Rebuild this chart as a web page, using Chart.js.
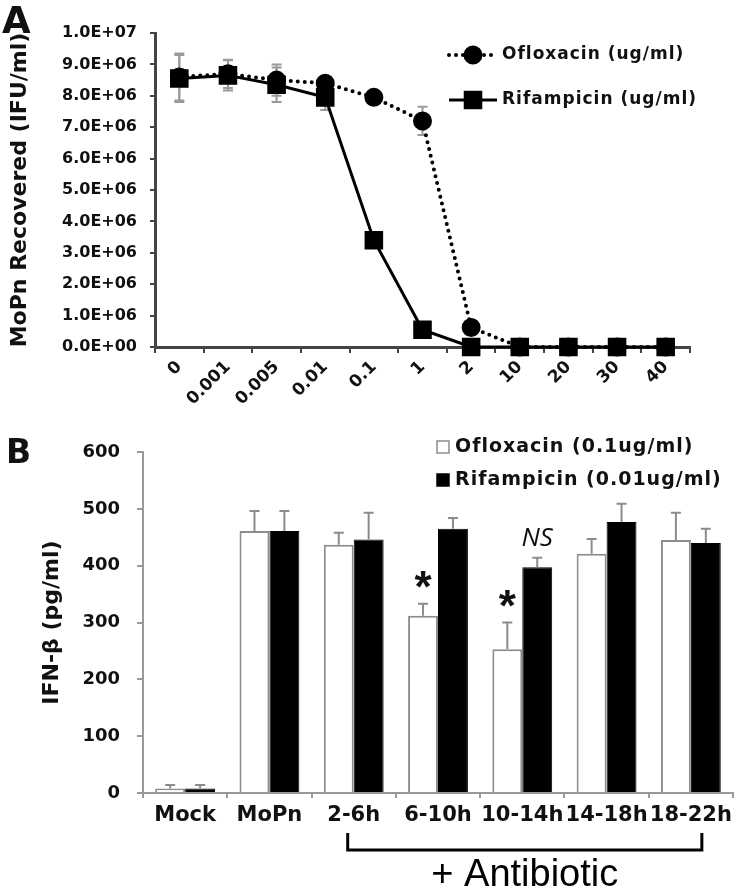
<!DOCTYPE html>
<html>
<head>
<meta charset="utf-8">
<script src="https://cdn.jsdelivr.net/npm/chart.js@4.4.1/dist/chart.umd.min.js"></script>
<style>
  html, body { margin: 0; padding: 0; background: #fff; }
  #wrap { position: relative; width: 740px; height: 892px; }
  .panel { position: absolute; left: 0; width: 740px; }
  #panelA { top: 0; height: 435px; }
  #panelB { top: 435px; height: 457px; }
</style>
</head>
<body>
<div id="wrap">
  <div class="panel" id="panelA"><canvas id="chartA"></canvas></div>
  <div class="panel" id="panelB"><canvas id="chartB"></canvas></div>
</div>
<script>
/* ---------- Panel A data (MoPn recovered, IFU/ml) ---------- */
const concLabels = ['0', '0.001', '0.005', '0.01', '0.1', '1', '2', '10', '20', '30', '40'];
const oflox = [8.6e6, 8.7e6, 8.5e6, 8.4e6, 7.95e6, 7.2e6, 0.62e6, 0, 0, 0, 0];
const ofloxErr = [0.75e6, 0.45e6, 0.5e6, 0.1e6, 0.1e6, 0.45e6, 0.05e6, 0, 0, 0, 0];
const rifam = [8.55e6, 8.65e6, 8.35e6, 7.95e6, 3.4e6, 0.55e6, 0, 0, 0, 0, 0];
const rifamErr = [0.75e6, 0.48e6, 0.55e6, 0.4e6, 0.1e6, 0.1e6, 0, 0, 0, 0, 0];
const yTicksA = ['0.0E+00', '1.0E+06', '2.0E+06', '3.0E+06', '4.0E+06', '5.0E+06',
                 '6.0E+06', '7.0E+06', '8.0E+06', '9.0E+06', '1.0E+07'];

/* ---------- Panel B data (IFN-beta, pg/ml) ---------- */
const groups = ['Mock', 'MoPn', '2-6h', '6-10h', '10-14h', '14-18h', '18-22h'];
const ifnOflox = [8, 461, 437, 312, 253, 421, 445];
const ifnOfloxErr = [6, 35, 21, 21, 47, 26, 48];
const ifnRifam = [8, 461, 446, 465, 397, 477, 440];
const ifnRifamErr = [6, 35, 47, 19, 17, 32, 25];
const oflSig = ['', '', '', '*', '*', '', ''];
const rifSig = ['', '', '', '', 'NS', '', ''];
const yTicksB = ['0', '100', '200', '300', '400', '500', '600'];

const FONT = "'DejaVu Sans', sans-serif";
const INK = '#111';

// y scale padding from tick labels would push the plot down, drop it
function fixY(width) {
  return s => { s.width = width; s.paddingTop = 0; s.paddingBottom = 0; };
}

/* error bars drawn through the y scale */
function drawErrors(chart, opts) {
  const ctx = chart.ctx, y = chart.scales.y;
  ctx.save();
  ctx.strokeStyle = opts.color;
  ctx.lineWidth = opts.width;
  chart.data.datasets.forEach((ds, i) => {
    if (!ds.errors) return;
    chart.getDatasetMeta(i).data.forEach((el, j) => {
      const err = ds.errors[j];
      if (!err) return;
      const top = y.getPixelForValue(ds.data[j] + err);
      const bot = opts.upOnly ? el.y : y.getPixelForValue(ds.data[j] - err);
      ctx.beginPath();
      ctx.moveTo(el.x, top); ctx.lineTo(el.x, bot);
      ctx.moveTo(el.x - opts.cap, top); ctx.lineTo(el.x + opts.cap, top);
      if (!opts.upOnly) { ctx.moveTo(el.x - opts.cap, bot); ctx.lineTo(el.x + opts.cap, bot); }
      ctx.stroke();
    });
  });
  ctx.restore();
}

const errorBars = {
  id: 'errorBars',
  beforeDatasetsDraw(chart, args, opts) { if (opts.under) drawErrors(chart, opts); },
  afterDatasetsDraw(chart, args, opts) { if (!opts.under) drawErrors(chart, opts); }
};

/* =========================================
   PANEL A
   ========================================= */
const decorA = {
  id: 'decorA',
  afterDraw(chart) {
    const ctx = chart.ctx;
    ctx.save();
    ctx.fillStyle = INK;
    ctx.font = 'bold 37px ' + FONT;
    ctx.textBaseline = 'alphabetic';
    ctx.fillText('A', 2, 33);

    // legend: line + marker + label, Ofloxacin first
    const rows = [{ ds: 1, y: 55 }, { ds: 0, y: 100 }];
    rows.forEach(r => {
      const ds = chart.data.datasets[r.ds];
      ctx.strokeStyle = '#000';
      ctx.lineWidth = ds.borderWidth;
      ctx.lineCap = ds.borderCapStyle || 'butt';
      ctx.setLineDash(ds.borderDash || []);
      ctx.beginPath(); ctx.moveTo(449, r.y); ctx.lineTo(497, r.y); ctx.stroke();
      ctx.setLineDash([]);
      ctx.fillStyle = '#000';
      Chart.helpers.drawPoint(ctx, { pointStyle: ds.pointStyle, radius: ds.pointRadius, rotation: 0, borderWidth: 1 }, 473, r.y);
      ctx.fillStyle = INK;
      ctx.font = 'bold 17px ' + FONT;
      ctx.letterSpacing = '1px';
      ctx.textBaseline = 'middle';
      ctx.fillText(ds.label, 502, r.y);
      ctx.letterSpacing = '0px';
    });
    ctx.restore();
  }
};

new Chart(document.getElementById('chartA'), {
  type: 'line',
  data: {
    labels: concLabels,
    datasets: [
      {
        label: 'Rifampicin (ug/ml)', data: rifam, errors: rifamErr,
        borderColor: '#000', borderWidth: 3, pointStyle: 'rect', pointRadius: 11,
        pointBackgroundColor: '#000', pointBorderColor: '#000', tension: 0, clip: false
      },
      {
        label: 'Ofloxacin (ug/ml)', data: oflox, errors: ofloxErr,
        borderColor: '#000', borderWidth: 4, borderDash: [0, 7], borderCapStyle: 'round',
        pointStyle: 'circle', pointRadius: 7.5,
        pointBackgroundColor: '#000', pointBorderColor: '#000', tension: 0, clip: false
      }
    ]
  },
  options: {
    responsive: true,
    maintainAspectRatio: false,
    animation: false,
    layout: { padding: { top: 33, right: 50, left: 0, bottom: 0 } },
    plugins: {
      legend: { display: false },
      tooltip: { enabled: false },
      errorBars: { color: '#9a9a9a', width: 2, cap: 5, under: true }
    },
    scales: {
      x: {
        offset: true,
        grid: { offset: true, drawOnChartArea: false, drawTicks: true, tickLength: 6, color: '#444', lineWidth: 2 },
        border: { color: '#444', width: 3 },
        ticks: { color: INK, font: { family: FONT, size: 17, weight: 'bold' }, minRotation: 45, maxRotation: 45, autoSkip: false, padding: 4 },
        afterFit: s => { s.height = 88; }
      },
      y: {
        min: 0, max: 1e7,
        ticks: { stepSize: 1e6, color: INK, font: { family: FONT, size: 16, weight: 'bold' }, padding: 13,
                 callback: (v, i) => yTicksA[i] },
        grid: { drawOnChartArea: false, drawTicks: true, tickLength: 5, color: '#444', lineWidth: 2 },
        border: { color: '#444', width: 3 },
        title: { display: true, text: 'MoPn Recovered (IFU/ml)', color: INK,
                 font: { family: FONT, size: 22, weight: 'bold' }, padding: { top: 7, bottom: 0 } },
        afterFit: fixY(155)
      }
    }
  },
  plugins: [errorBars, decorA]
});

/* =========================================
   PANEL B
   ========================================= */
const decorB = {
  id: 'decorB',
  afterDraw(chart) {
    const ctx = chart.ctx, x = chart.scales.x, y = chart.scales.y;
    ctx.save();
    ctx.fillStyle = INK;
    ctx.font = 'bold 33px ' + FONT;
    ctx.textBaseline = 'alphabetic';
    ctx.fillText('B', 6, 28);

    // legend squares
    const rows = [{ ds: 0, y: 12 }, { ds: 1, y: 45 }];
    rows.forEach(r => {
      const ds = chart.data.datasets[r.ds];
      ctx.fillStyle = ds.backgroundColor;
      ctx.fillRect(437, r.y - 6, 12, 12);
      ctx.strokeStyle = ds.borderColor;
      ctx.lineWidth = 1.5;
      ctx.strokeRect(437, r.y - 6, 12, 12);
      ctx.fillStyle = INK;
      ctx.font = 'bold 19px ' + FONT;
      ctx.letterSpacing = '1px';
      ctx.textBaseline = 'middle';
      ctx.fillText(ds.label, 455, r.y);
      ctx.letterSpacing = '0px';
    });

    // significance marks above the error bars
    const marks = [{ ds: 0, text: oflSig, font: 'bold 44px "Liberation Sans", sans-serif', gap: 24 },
                   { ds: 1, text: rifSig, font: 'italic 26px "Open Sans", sans-serif', gap: 21 }];
    marks.forEach(m => {
      const ds = chart.data.datasets[m.ds];
      const meta = chart.getDatasetMeta(m.ds);
      m.text.forEach((t, j) => {
        if (!t) return;
        ctx.font = m.font;
        ctx.textAlign = 'center';
        ctx.textBaseline = 'alphabetic';
        const mt = ctx.measureText(t);
        const cy = y.getPixelForValue(ds.data[j] + ds.errors[j]) - m.gap;
        ctx.fillStyle = INK;
        ctx.fillText(t, meta.data[j].x, cy - (mt.actualBoundingBoxDescent - mt.actualBoundingBoxAscent) / 2);
      });
    });

    // "+ Antibiotic" bracket under the treated groups
    const x0 = x.getPixelForValue(2) - 6, x1 = x.getPixelForValue(6) + 11;
    ctx.strokeStyle = '#000';
    ctx.lineWidth = 3;
    ctx.beginPath();
    ctx.moveTo(x0, 398); ctx.lineTo(x0, 415); ctx.lineTo(x1, 415); ctx.lineTo(x1, 398);
    ctx.stroke();
    ctx.font = '38px "Liberation Sans", Arial, sans-serif';
    ctx.textAlign = 'center';
    ctx.textBaseline = 'alphabetic';
    ctx.fillStyle = '#000';
    ctx.fillText('+ Antibiotic', (x0 + x1) / 2, 451);
    ctx.restore();
  }
};

new Chart(document.getElementById('chartB'), {
  type: 'bar',
  data: {
    labels: groups,
    datasets: [
      { label: 'Ofloxacin (0.1ug/ml)', data: ifnOflox, errors: ifnOfloxErr,
        backgroundColor: '#fff', borderColor: '#8c8c8c', borderWidth: 2,
        categoryPercentage: 0.71, barPercentage: 1.0 },
      { label: 'Rifampicin (0.01ug/ml)', data: ifnRifam, errors: ifnRifamErr,
        backgroundColor: '#000', borderColor: '#000', borderWidth: 1,
        categoryPercentage: 0.71, barPercentage: 1.0 }
    ]
  },
  options: {
    responsive: true,
    maintainAspectRatio: false,
    animation: false,
    layout: { padding: { top: 17, right: 7, left: 0, bottom: 0 } },
    plugins: {
      legend: { display: false },
      tooltip: { enabled: false },
      errorBars: { color: '#8c8c8c', width: 2, cap: 5, upOnly: true, under: false }
    },
    scales: {
      x: {
        grid: { offset: true, drawOnChartArea: false, drawTicks: true, tickLength: 5, color: '#999', lineWidth: 2 },
        border: { color: '#999', width: 2 },
        ticks: { color: INK, font: { family: FONT, size: 21, weight: 'bold' }, padding: 5, autoSkip: false, maxRotation: 0 },
        afterFit: s => { s.height = 99; }
      },
      y: {
        min: 0, max: 600,
        ticks: { stepSize: 100, color: INK, font: { family: FONT, size: 18, weight: 'bold' }, padding: 17,
                 callback: (v, i) => yTicksB[i] },
        grid: { drawOnChartArea: false, drawTicks: true, tickLength: 6, color: '#999', lineWidth: 2 },
        border: { color: '#999', width: 2 },
        title: { display: true, text: 'IFN-β (pg/ml)', color: INK,
                 font: { family: FONT, size: 22, weight: 'bold' }, padding: { top: 39, bottom: 0 } },
        afterFit: fixY(143)
      }
    }
  },
  plugins: [errorBars, decorB]
});
</script>
</body>
</html>
